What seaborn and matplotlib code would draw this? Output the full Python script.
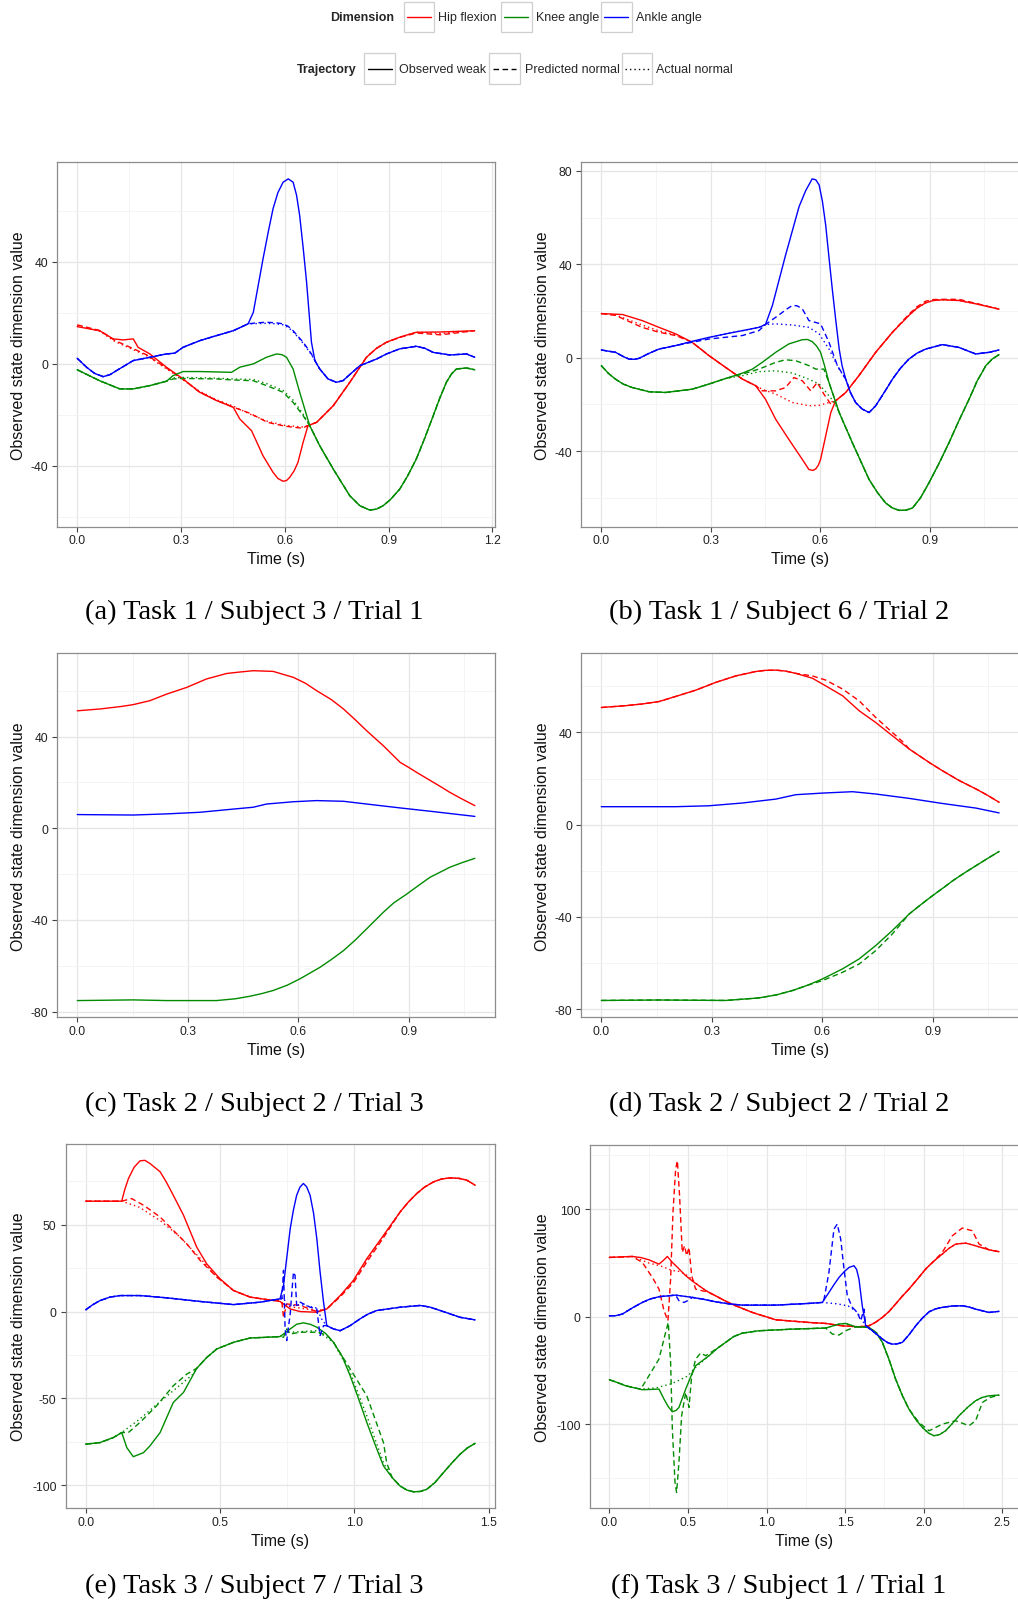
import matplotlib
matplotlib.use("Agg")
import matplotlib.pyplot as plt
import pandas as pd
import seaborn as sns
from matplotlib.lines import Line2D
from matplotlib.patches import Rectangle
from matplotlib.ticker import MultipleLocator, FuncFormatter

# ---------------- categories / legend ----------------
DIMS = ["Hip flexion", "Knee angle", "Ankle angle"]
TRAJ = ["Observed weak", "Predicted normal", "Actual normal"]
PALETTE = {"Hip flexion": "#FF0000", "Knee angle": "#008B00", "Ankle angle": "#0000FF"}
DASHES = {"Observed weak": "", "Predicted normal": (4, 2.5), "Actual normal": (1, 2.2)}

CAPTIONS = ["(a) Task 1 / Subject 3 / Trial 1", "(b) Task 1 / Subject 6 / Trial 2",
            "(c) Task 2 / Subject 2 / Trial 3", "(d) Task 2 / Subject 2 / Trial 2",
            "(e) Task 3 / Subject 7 / Trial 3", "(f) Task 3 / Subject 1 / Trial 1"]

# ---------------- panel (a) ----------------
a_hip_obs = [(0, 14.5), (0.065, 12.9), (0.104, 9.7), (0.133, 9.3), (0.162, 9.7), (0.176, 6.4), (0.21, 3.8),
             (0.258, -1.4), (0.306, -6.0), (0.354, -11.2), (0.403, -14.5), (0.451, -17.1), (0.47, -21.7),
             (0.504, -26.3), (0.537, -36.1), (0.566, -42.6), (0.58, -45.0), (0.595, -46.1), (0.605, -45.8),
             (0.614, -44.6), (0.627, -42.0), (0.638, -38.7), (0.653, -30.8), (0.667, -24.3), (0.692, -23.0),
             (0.74, -16.5), (0.788, -7.3), (0.836, 2.5), (0.865, 6.0), (0.894, 8.4), (0.935, 10.5),
             (0.98, 12.3), (1.05, 12.4), (1.149, 12.9)]
a_hip_pred = [(0, 15.2), (0.065, 13.0), (0.11, 9.0), (0.16, 6.0), (0.2, 3.5), (0.25, -1.0), (0.3, -5.5),
              (0.35, -10.8), (0.4, -14.2), (0.45, -17.0), (0.5, -19.5), (0.55, -23.0), (0.6, -24.5),
              (0.65, -25.3), (0.667, -24.3), (0.692, -23.0), (0.74, -16.5), (0.788, -7.3), (0.836, 2.5),
              (0.865, 6.0), (0.894, 8.4), (0.935, 10.4), (0.98, 12.0), (1.05, 11.3), (1.149, 12.9)]
a_hip_act = [(0, 14.8), (0.065, 12.7), (0.11, 8.6), (0.16, 5.6), (0.2, 3.2), (0.25, -1.3), (0.3, -5.8),
             (0.35, -10.5), (0.4, -14.0), (0.45, -16.6), (0.5, -19.8), (0.55, -22.6), (0.6, -24.2),
             (0.65, -24.8), (0.667, -24.3), (0.692, -23.0), (0.74, -16.5), (0.788, -7.3), (0.836, 2.5),
             (0.865, 6.0), (0.894, 8.4), (0.935, 10.5), (0.98, 12.3), (1.05, 11.8), (1.149, 12.9)]
a_knee_head = [(0, -2.4), (0.065, -6.7), (0.123, -9.9), (0.162, -9.9), (0.21, -8.6), (0.258, -6.9)]
a_knee_tail = [(0.672, -24.3), (0.701, -32.2), (0.74, -41.3), (0.765, -46.8), (0.788, -51.8), (0.817, -55.7),
               (0.846, -57.4), (0.865, -57.0), (0.884, -55.7), (0.905, -53.3), (0.932, -49.2),
               (0.955, -44.0), (0.98, -37.4), (1.005, -29.0), (1.029, -20.4), (1.048, -13.5), (1.067, -7.3),
               (1.082, -4.0), (1.096, -2.1), (1.125, -1.7), (1.149, -2.4)]
a_knee_obs_mid = [(0.277, -4.7), (0.306, -3.1), (0.354, -3.1), (0.446, -3.4), (0.47, -1.4), (0.509, -0.1),
                  (0.547, 2.5), (0.576, 3.8), (0.592, 3.5), (0.605, 2.5), (0.624, -2.1), (0.643, -11.2)]
a_knee_pred_mid = [(0.277, -6.0), (0.306, -5.8), (0.403, -6.0), (0.451, -6.4), (0.509, -6.7), (0.547, -8.6),
                   (0.595, -11.2), (0.624, -15.2), (0.653, -20.4)]
a_knee_act_mid = [(0.277, -5.6), (0.306, -5.4), (0.403, -5.7), (0.451, -6.0), (0.509, -6.2), (0.547, -7.8),
                  (0.595, -10.5), (0.624, -14.3), (0.653, -19.8)]
a_ankle_head = [(0, 2.1), (0.027, -1.4), (0.05, -3.8), (0.075, -5.1), (0.095, -4.3), (0.114, -2.7),
                (0.162, 1.2), (0.21, 2.5), (0.258, 3.8), (0.282, 4.1), (0.306, 6.4), (0.354, 9.0),
                (0.403, 11.0), (0.451, 12.9), (0.494, 15.6)]
a_ankle_tail = [(0.687, 1.2), (0.701, -2.1), (0.725, -6.0), (0.749, -7.3), (0.768, -6.7), (0.79, -4.0),
                (0.817, -0.8), (0.865, 1.8), (0.894, 3.8), (0.932, 5.8), (0.98, 6.8), (1.005, 6.0),
                (1.029, 4.4), (1.077, 3.4), (1.125, 3.8), (1.149, 2.5)]
a_ankle_obs_mid = [(0.509, 20.1), (0.537, 41.0), (0.552, 51.5), (0.566, 60.7), (0.58, 67.0), (0.595, 71.1),
                   (0.61, 72.4), (0.624, 71.1), (0.634, 66.0), (0.643, 58.0), (0.653, 45.5), (0.663, 31.9),
                   (0.677, 8.4)]
a_ankle_pred_mid = [(0.52, 16.0), (0.547, 16.2), (0.575, 16.0), (0.595, 15.6), (0.61, 14.6), (0.624, 12.9),
                    (0.653, 8.4), (0.677, 3.8)]
a_ankle_act_mid = [(0.52, 15.7), (0.547, 15.8), (0.575, 15.6), (0.595, 15.2), (0.61, 14.2), (0.624, 12.5),
                   (0.653, 8.0), (0.677, 3.5)]

# ---------------- panel (b) ----------------
b_hip_tail = [(0.67, -14.9), (0.706, -7.7), (0.752, 2.3), (0.798, 10.9), (0.843, 18.1), (0.865, 21.2),
              (0.889, 23.5), (0.91, 24.5), (0.935, 24.8), (0.98, 24.5), (1.026, 23.1), (1.09, 20.8)]
b_hip_obs_head = [(0, 18.9), (0.058, 18.5), (0.112, 15.9), (0.158, 13.0), (0.204, 10.2), (0.249, 6.6),
                  (0.295, 0.9), (0.341, -4.2), (0.387, -9.2), (0.423, -12.0), (0.45, -17.8), (0.478, -26.4),
                  (0.514, -35.0), (0.551, -43.6), (0.569, -47.9), (0.58, -48.3), (0.588, -47.6),
                  (0.595, -46.0), (0.601, -43.6), (0.615, -33.5), (0.629, -23.5), (0.642, -18.5)]
b_hip_pred_head = [(0, 18.9), (0.039, 18.1), (0.112, 13.0), (0.158, 10.9), (0.204, 9.5), (0.249, 6.6),
                   (0.295, 0.9), (0.341, -4.2), (0.387, -9.2), (0.423, -12.0), (0.441, -14.2), (0.478, -14.2),
                   (0.505, -12.8), (0.528, -8.5), (0.551, -9.9), (0.574, -14.2), (0.592, -10.6),
                   (0.61, -15.6), (0.629, -19.9), (0.642, -18.5)]
b_hip_pred_tail = [(0.67, -14.9), (0.706, -7.7), (0.752, 2.3), (0.798, 10.9), (0.843, 18.6), (0.865, 21.8),
                   (0.889, 24.2), (0.91, 24.9), (0.935, 25.0), (0.98, 25.0), (1.026, 23.3), (1.09, 20.8)]
b_hip_act_head = [(0, 18.9), (0.039, 18.3), (0.112, 14.0), (0.158, 11.5), (0.204, 9.8), (0.249, 6.6),
                  (0.295, 0.9), (0.341, -4.2), (0.387, -9.2), (0.423, -12.0), (0.441, -13.5), (0.478, -15.6),
                  (0.524, -19.2), (0.569, -20.6), (0.597, -20.4), (0.624, -19.2), (0.642, -18.5)]
b_ankle_head = [(0, 3.3), (0.039, 2.3), (0.06, 0.5), (0.076, -0.6), (0.09, -0.7), (0.103, -0.3),
                (0.13, 1.8), (0.158, 3.7), (0.204, 5.2)]
b_ankle_tail = [(0.683, -15.0), (0.697, -19.2), (0.715, -22.0), (0.734, -23.5), (0.752, -20.6), (0.775, -15.0),
                (0.798, -9.2), (0.82, -4.5), (0.843, -0.6), (0.865, 1.9), (0.889, 3.7), (0.935, 5.6),
                (0.98, 4.4), (1.026, 1.6), (1.063, 2.3), (1.09, 3.3)]
b_ankle_obs_mid = [(0.249, 7.0), (0.295, 8.7), (0.341, 10.2), (0.387, 11.6), (0.432, 13.0), (0.45, 14.2),
                   (0.469, 22.4), (0.505, 43.9), (0.542, 64.7), (0.56, 71.5), (0.578, 76.6), (0.588, 76.2),
                   (0.597, 74.0), (0.606, 67.0), (0.615, 56.8), (0.624, 43.0), (0.633, 29.5), (0.643, 15.5),
                   (0.652, 3.7), (0.66, -3.5), (0.67, -9.2)]
b_ankle_pred_mid = [(0.249, 6.6), (0.295, 8.0), (0.387, 9.5), (0.432, 11.6), (0.45, 14.2), (0.478, 17.3),
                    (0.51, 21.0), (0.524, 22.4), (0.537, 22.2), (0.551, 20.9), (0.569, 15.9), (0.601, 14.5),
                    (0.624, 6.6), (0.647, -3.4), (0.67, -9.2)]
b_ankle_act_mid = [(0.249, 7.0), (0.295, 8.7), (0.341, 10.2), (0.387, 11.6), (0.432, 13.0), (0.45, 14.2),
                   (0.478, 14.5), (0.524, 14.0), (0.569, 13.0), (0.597, 10.2), (0.624, 3.7), (0.652, -4.9),
                   (0.67, -9.2)]
b_knee_head = [(0, -3.4), (0.02, -6.8), (0.039, -9.2), (0.06, -11.3), (0.085, -12.8), (0.131, -14.6),
               (0.176, -14.9), (0.249, -13.5), (0.295, -11.3), (0.341, -8.9)]
b_knee_tail = [(0.652, -23.5), (0.688, -36.4), (0.734, -52.2), (0.757, -57.8), (0.779, -62.2), (0.797, -64.3),
               (0.816, -65.4), (0.835, -65.3), (0.853, -64.4), (0.875, -60.0), (0.898, -53.6),
               (0.925, -45.5), (0.953, -36.4), (0.98, -27.0), (1.008, -17.8), (1.03, -10.0), (1.054, -3.4),
               (1.072, -0.5), (1.09, 1.3)]
b_knee_obs_mid = [(0.387, -6.6), (0.414, -4.9), (0.441, -2.0), (0.478, 2.3), (0.514, 5.9), (0.551, 7.7),
                  (0.565, 7.8), (0.578, 6.9), (0.59, 5.0), (0.601, 2.3), (0.612, -3.5), (0.624, -10.6)]
b_knee_pred_mid = [(0.387, -7.0), (0.432, -4.9), (0.478, -2.0), (0.505, -0.9), (0.533, -1.3), (0.569, -3.4),
                   (0.588, -4.9), (0.61, -4.9), (0.624, -10.6)]
b_knee_act_mid = [(0.387, -7.7), (0.432, -6.0), (0.478, -5.6), (0.524, -6.6), (0.569, -9.2), (0.597, -11.3),
                  (0.624, -16.3), (0.64, -19.5)]

# ---------------- panel (c) ----------------
c_hip = [(0, 51.3), (0.062, 52.1), (0.12, 53.2), (0.152, 54.0), (0.197, 55.7), (0.243, 58.6), (0.297, 61.5),
         (0.351, 65.2), (0.406, 67.6), (0.44, 68.2), (0.478, 68.8), (0.532, 68.5), (0.587, 65.9),
         (0.62, 63.3), (0.65, 60.1), (0.69, 56.2), (0.723, 52.1), (0.755, 47.4), (0.786, 42.6),
         (0.831, 36.1), (0.877, 28.8), (0.9, 26.6), (0.922, 24.4), (0.967, 20.1), (0.99, 17.9),
         (1.012, 15.7), (1.045, 12.8), (1.08, 9.9)]
c_knee = [(0, -75.2), (0.152, -74.9), (0.243, -75.2), (0.378, -75.2), (0.43, -74.4), (0.469, -73.3),
          (0.5, -72.2), (0.532, -70.8), (0.57, -68.5), (0.605, -65.7), (0.659, -60.7), (0.69, -57.3),
          (0.723, -53.4), (0.755, -48.8), (0.786, -43.9), (0.831, -36.7), (0.86, -32.5), (0.895, -28.7),
          (0.93, -24.6), (0.958, -21.4), (1.012, -17.0), (1.045, -15.0), (1.08, -13.1)]
c_ankle = [(0, 6.0), (0.152, 5.8), (0.243, 6.3), (0.333, 7.0), (0.424, 8.4), (0.478, 9.2), (0.514, 10.6),
           (0.587, 11.6), (0.65, 12.1), (0.723, 11.8), (0.786, 10.6), (0.877, 8.9), (0.967, 7.3), (1.08, 5.2)]

# ---------------- panel (d) ----------------
d_hip_head = [(0, 50.8), (0.066, 51.6), (0.11, 52.3), (0.157, 53.4), (0.202, 55.6), (0.23, 57.0),
              (0.256, 58.3), (0.311, 61.7), (0.365, 64.5), (0.419, 66.4), (0.445, 66.9), (0.474, 67.0),
              (0.5, 66.6), (0.528, 65.6)]
d_hip_tail = [(0.836, 32.8), (0.89, 27.0), (0.926, 23.4), (0.972, 19.1), (1.017, 15.5), (1.048, 12.8),
              (1.08, 9.7)]
d_hip_obs_mid = [(0.573, 63.5), (0.609, 60.2), (0.655, 55.9), (0.7, 49.4), (0.745, 44.3), (0.79, 38.6)]
d_hip_pred_mid = [(0.573, 64.5), (0.609, 62.7), (0.655, 58.8), (0.7, 53.7), (0.745, 46.5), (0.79, 40.0),
                  (0.818, 36.0)]
d_knee_head = [(0, -76.2), (0.157, -76.0), (0.338, -76.2), (0.428, -75.1), (0.475, -73.8), (0.519, -71.9),
               (0.56, -69.6)]
d_knee_tail = [(0.836, -38.7), (0.868, -34.6), (0.899, -30.8), (0.93, -27.2), (0.954, -24.3), (0.985, -21.0),
               (1.017, -17.8), (1.048, -14.7), (1.08, -11.6)]
d_knee_obs_mid = [(0.6, -66.9), (0.655, -62.5), (0.7, -58.2), (0.745, -52.4), (0.79, -45.9)]
d_knee_pred_mid = [(0.6, -67.6), (0.655, -64.0), (0.7, -60.4), (0.745, -54.6), (0.79, -47.4)]
d_ankle = [(0, 7.8), (0.202, 7.8), (0.292, 8.2), (0.383, 9.4), (0.474, 11.1), (0.528, 13.0), (0.6, 13.7),
           (0.682, 14.3), (0.745, 13.3), (0.836, 11.4), (0.926, 9.2), (1.017, 7.2), (1.08, 5.1)]

# ---------------- panel (e) ----------------
e_hip_obs = [(0, 63.5), (0.134, 63.5), (0.145, 70.0), (0.159, 76.5), (0.18, 83.0), (0.202, 86.7),
             (0.22, 87.0), (0.239, 85.2), (0.277, 80.4), (0.3, 74.5), (0.326, 66.9), (0.364, 55.4),
             (0.413, 37.1), (0.45, 27.5), (0.5, 18.8), (0.55, 12.1), (0.612, 8.3), (0.674, 6.9), (0.723, 5.8),
             (0.761, 1.5), (0.798, 0.0), (0.86, -0.4), (0.897, 1.5), (0.947, 9.2), (0.996, 17.9),
             (1.046, 30.4), (1.108, 43.8), (1.17, 57.3), (1.2, 62.9), (1.232, 67.9), (1.26, 71.5),
             (1.294, 74.6), (1.325, 76.3), (1.356, 76.9), (1.39, 76.6), (1.418, 75.6), (1.449, 72.7)]
e_hip_pred = [(0, 63.5), (0.134, 63.5), (0.171, 65.0), (0.215, 61.2), (0.277, 54.4), (0.326, 46.7),
              (0.376, 39.0), (0.426, 29.4), (0.488, 19.8), (0.55, 12.1), (0.612, 8.3), (0.674, 6.9),
              (0.723, 6.3), (0.73, 5.5), (0.736, -3.3), (0.748, 4.4), (0.798, 3.5), (0.86, 0.0), (0.897, 1.5),
              (0.947, 8.5), (0.996, 16.5), (1.046, 28.5), (1.108, 42.5), (1.17, 57.3), (1.2, 62.9),
              (1.232, 67.9), (1.26, 71.5), (1.294, 74.6), (1.325, 76.3), (1.356, 76.9), (1.39, 76.6),
              (1.418, 75.6), (1.449, 72.7)]
e_hip_act = [(0, 63.5), (0.134, 63.5), (0.2, 60.0), (0.28, 52.0), (0.35, 43.0), (0.43, 30.0), (0.488, 20.0),
             (0.55, 12.1), (0.612, 8.3), (0.674, 6.9), (0.723, 5.8), (0.748, 3.0), (0.798, 2.0), (0.86, 0.5),
             (0.897, 1.5), (0.947, 9.0), (0.996, 17.5), (1.046, 29.5), (1.108, 43.5), (1.17, 57.3),
             (1.2, 62.9), (1.232, 67.9), (1.26, 71.5), (1.294, 74.6), (1.325, 76.3), (1.356, 76.9),
             (1.39, 76.6), (1.418, 75.6), (1.449, 72.7)]
e_ankle_head = [(0, 1.0), (0.025, 3.8), (0.053, 6.3), (0.09, 8.3), (0.128, 9.2), (0.202, 9.2), (0.301, 7.9),
                (0.426, 5.8), (0.55, 4.0), (0.649, 5.4), (0.723, 7.3)]
e_ankle_tail = [(0.897, -8.1), (0.922, -10.0), (0.947, -11.0), (0.984, -8.1), (1.021, -4.2), (1.05, -1.5),
                (1.083, 0.6), (1.17, 2.5), (1.244, 3.5), (1.28, 2.6), (1.319, 0.6), (1.393, -3.3),
                (1.449, -4.8)]
e_ankle_obs_mid = [(0.736, 15.0), (0.761, 47.7), (0.773, 58.5), (0.785, 66.9), (0.797, 71.5), (0.81, 73.7),
                   (0.822, 71.8), (0.835, 66.9), (0.848, 56.5), (0.86, 41.9), (0.872, 23.0), (0.885, 5.4)]
e_ankle_pred_mid = [(0.73, 7.3), (0.736, 23.7), (0.742, -10.0), (0.748, -16.7), (0.761, -1.3), (0.773, 22.7),
                    (0.779, 20.8), (0.785, 3.5), (0.798, 5.4), (0.835, 2.5), (0.86, 1.5), (0.872, -13.8),
                    (0.885, -8.1)]
e_ankle_act_mid = [(0.736, 8.0), (0.75, 3.0), (0.8, 4.0), (0.86, 2.0), (0.88, -5.0)]
e_knee_head = [(0, -76.3), (0.053, -75.4), (0.103, -72.5), (0.134, -69.6)]
e_knee_tail = [(1.14, -95.5), (1.17, -100.4), (1.195, -102.7), (1.22, -103.7), (1.245, -103.5),
               (1.269, -102.3), (1.3, -98.3), (1.331, -92.7), (1.362, -87.2), (1.393, -82.1), (1.42, -78.5),
               (1.449, -75.8)]
e_knee_obs_mid = [(0.153, -78.3), (0.177, -83.5), (0.215, -81.2), (0.239, -77.3), (0.277, -69.6),
                  (0.326, -52.3), (0.364, -46.5), (0.413, -32.7), (0.45, -26.5), (0.488, -21.5), (0.55, -17.7),
                  (0.612, -15.2), (0.674, -14.8), (0.723, -14.4), (0.761, -10.0), (0.785, -7.3), (0.81, -6.5),
                  (0.835, -7.3), (0.86, -9.0), (0.892, -12.5), (0.922, -17.7), (0.955, -26.0), (0.984, -36.9),
                  (1.015, -50.0), (1.046, -63.8), (1.078, -77.0), (1.108, -88.8)]
e_knee_pred_mid = [(0.159, -69.6), (0.202, -63.8), (0.264, -54.2), (0.326, -42.7), (0.376, -36.0),
                   (0.413, -32.7), (0.45, -26.5), (0.488, -21.5), (0.55, -17.7), (0.612, -15.2), (0.674, -14.8),
                   (0.723, -14.4), (0.736, -14.8), (0.748, -10.0), (0.761, -12.9), (0.798, -11.9),
                   (0.86, -11.9), (0.897, -13.5), (0.922, -17.7), (0.984, -33.0), (1.046, -48.5),
                   (1.108, -75.4), (1.12, -87.0)]
e_knee_act_mid = [(0.2, -62.0), (0.26, -54.0), (0.33, -45.0), (0.4, -36.0), (0.413, -32.7), (0.45, -26.5),
                  (0.488, -21.5), (0.55, -17.7), (0.612, -15.2), (0.674, -14.8), (0.723, -14.4), (0.75, -12.0),
                  (0.86, -11.0), (0.922, -17.7), (0.984, -35.0), (1.046, -60.0), (1.108, -87.0)]

# ---------------- panel (f) ----------------
f_hip_tail = [(0.676, 19.5), (0.74, 14.5), (0.804, 10.2), (0.91, 4.0), (1.058, -2.8), (1.27, -5.3),
              (1.376, -6.2), (1.482, -8.4), (1.588, -9.3), (1.652, -8.4), (1.695, -5.0), (1.737, -0.6),
              (1.78, 5.0), (1.821, 11.8), (1.86, 18.5), (1.906, 25.7), (1.96, 35.0), (2.012, 44.3),
              (2.065, 51.8)]
f_hip_obs_end = [(2.118, 58.2), (2.16, 63.5), (2.203, 67.5), (2.267, 68.4), (2.33, 65.9), (2.415, 62.2),
                 (2.479, 60.4)]
f_hip_pred_end = [(2.118, 59.8), (2.182, 75.2), (2.245, 82.4), (2.309, 79.9), (2.352, 67.5), (2.415, 62.2),
                  (2.479, 60.4)]
f_hip_obs_head = [(0, 55.1), (0.146, 56.0), (0.2, 55.0), (0.252, 52.9), (0.316, 48.9), (0.345, 52.5),
                  (0.369, 56.0), (0.401, 50.5), (0.44, 45.0), (0.486, 38.1), (0.53, 33.0), (0.57, 28.8),
                  (0.62, 23.8)]
f_hip_pred_head = [(0, 55.1), (0.146, 56.0), (0.21, 50.5), (0.274, 36.5), (0.316, 25.7), (0.348, 5.6),
                   (0.373, -3.7), (0.39, 35.0), (0.405, 96.9), (0.422, 137.2), (0.433, 144.9), (0.447, 112.4),
                   (0.464, 59.8), (0.479, 65.9), (0.492, 56.7), (0.507, 64.4), (0.524, 38.1), (0.549, 25.7),
                   (0.592, 24.1), (0.62, 23.3)]
f_hip_act_head = [(0, 55.1), (0.146, 56.0), (0.25, 50.0), (0.33, 47.0), (0.4, 43.0), (0.45, 42.0),
                  (0.5, 38.0), (0.57, 28.8), (0.62, 23.8)]
f_ankle_head = [(0, 0.9), (0.04, 1.0), (0.083, 2.5), (0.15, 8.5), (0.21, 13.3), (0.26, 16.5), (0.316, 18.6),
                (0.422, 20.1)]
f_ankle_body = [(0.528, 18.0), (0.6, 16.2), (0.676, 13.9), (0.76, 12.0), (0.846, 10.8), (1.058, 10.8),
                (1.27, 12.4), (1.355, 13.3)]
f_ankle_tail = [(1.631, -8.4), (1.673, -13.0), (1.737, -20.7), (1.77, -24.0), (1.8, -25.4), (1.83, -25.2),
                (1.864, -23.8), (1.905, -17.0), (1.949, -8.4), (1.99, -1.5), (2.034, 4.6), (2.075, 7.3),
                (2.118, 8.7), (2.18, 10.0), (2.245, 10.2), (2.29, 9.0), (2.33, 7.1), (2.415, 4.0),
                (2.479, 5.0)]
f_ankle_pred_dip = [(0.443, 14.9), (0.475, 13.3), (0.507, 15.5)]
f_ankle_obs_peak = [(1.397, 22.6), (1.43, 30.0), (1.461, 36.5), (1.495, 42.0), (1.525, 45.8), (1.556, 47.4),
                    (1.573, 44.0), (1.588, 35.0), (1.609, 10.2)]
f_ankle_pred_peak = [(1.366, 16.4), (1.397, 41.2), (1.429, 81.4), (1.45, 86.1), (1.472, 72.1), (1.493, 44.3),
                     (1.514, 19.5), (1.546, 8.7), (1.578, 4.0), (1.599, -3.7), (1.62, 7.1)]
f_ankle_act_peak = [(1.45, 12.0), (1.52, 10.0), (1.57, 5.0), (1.6, -1.0)]
f_knee_head = [(0, -58.5), (0.05, -61.0), (0.104, -64.1)]
f_knee_tail = [(2.1, -109.5), (2.139, -105.9), (2.18, -99.5), (2.224, -92.0), (2.28, -84.0), (2.33, -78.0),
               (2.37, -75.0), (2.415, -73.4), (2.479, -72.8)]
f_knee_obs = [(0.21, -67.8), (0.316, -67.2), (0.348, -76.5), (0.375, -83.5), (0.401, -88.2), (0.425, -87.0),
              (0.443, -84.2), (0.486, -67.2), (0.52, -55.0), (0.549, -45.5), (0.634, -36.2), (0.69, -29.0),
              (0.74, -23.8), (0.79, -18.5), (0.846, -15.2), (0.952, -13.0), (1.164, -11.5), (1.376, -10.5),
              (1.461, -6.8), (1.503, -6.2), (1.567, -9.3), (1.652, -9.9), (1.7, -15.0), (1.737, -23.8),
              (1.78, -40.0), (1.821, -57.9), (1.865, -73.5), (1.906, -85.8), (1.95, -95.5), (1.991, -102.8),
              (2.03, -108.0), (2.065, -110.5)]
f_knee_pred = [(0.2, -67.2), (0.252, -54.8), (0.316, -39.3), (0.358, -14.6), (0.375, -5.3), (0.39, -42.4),
               (0.401, -104.3), (0.418, -153.9), (0.428, -163.2), (0.443, -135.3), (0.46, -92.0),
               (0.486, -70.3), (0.507, -84.2), (0.524, -54.8), (0.549, -39.3), (0.581, -33.7), (0.613, -36.2),
               (0.69, -29.0), (0.74, -23.8), (0.79, -18.5), (0.846, -15.2), (0.952, -13.0), (1.164, -11.5),
               (1.376, -10.5), (1.419, -16.1), (1.461, -17.0), (1.503, -13.0), (1.567, -9.3), (1.652, -9.9),
               (1.7, -15.0), (1.737, -23.8), (1.78, -40.0), (1.821, -57.9), (1.865, -73.5), (1.906, -85.8),
               (1.97, -98.2), (2.034, -105.9), (2.118, -99.7), (2.203, -96.6), (2.288, -101.2), (2.33, -96.6),
               (2.373, -79.6), (2.424, -74.9), (2.479, -72.8)]
f_knee_act = [(0.2, -67.2), (0.3, -66.0), (0.4, -62.0), (0.5, -55.0), (0.549, -47.0), (0.634, -36.2),
              (0.69, -29.0), (0.74, -23.8), (0.79, -18.5), (0.846, -15.2), (0.952, -13.0), (1.164, -11.5),
              (1.376, -10.5), (1.461, -6.8), (1.503, -6.2), (1.567, -9.3), (1.652, -9.9), (1.7, -15.0),
              (1.737, -23.8), (1.78, -40.0), (1.821, -57.9), (1.865, -73.5), (1.906, -85.8), (1.95, -95.5),
              (1.991, -102.8), (2.03, -108.0), (2.065, -110.5)]

# curves per panel: (dimension, trajectory, points)
PANEL_CURVES = [
    [("Hip flexion", "Observed weak", a_hip_obs),
     ("Hip flexion", "Predicted normal", a_hip_pred),
     ("Hip flexion", "Actual normal", a_hip_act),
     ("Knee angle", "Observed weak", a_knee_head + a_knee_obs_mid + a_knee_tail),
     ("Knee angle", "Predicted normal", a_knee_head + a_knee_pred_mid + a_knee_tail),
     ("Knee angle", "Actual normal", a_knee_head + a_knee_act_mid + a_knee_tail),
     ("Ankle angle", "Observed weak", a_ankle_head + a_ankle_obs_mid + a_ankle_tail),
     ("Ankle angle", "Predicted normal", a_ankle_head + a_ankle_pred_mid + a_ankle_tail),
     ("Ankle angle", "Actual normal", a_ankle_head + a_ankle_act_mid + a_ankle_tail)],
    [("Hip flexion", "Observed weak", b_hip_obs_head + b_hip_tail),
     ("Hip flexion", "Predicted normal", b_hip_pred_head + b_hip_pred_tail),
     ("Hip flexion", "Actual normal", b_hip_act_head + b_hip_tail),
     ("Knee angle", "Observed weak", b_knee_head + b_knee_obs_mid + b_knee_tail),
     ("Knee angle", "Predicted normal", b_knee_head + b_knee_pred_mid + b_knee_tail),
     ("Knee angle", "Actual normal", b_knee_head + b_knee_act_mid + b_knee_tail),
     ("Ankle angle", "Observed weak", b_ankle_head + b_ankle_obs_mid + b_ankle_tail),
     ("Ankle angle", "Predicted normal", b_ankle_head + b_ankle_pred_mid + b_ankle_tail),
     ("Ankle angle", "Actual normal", b_ankle_head + b_ankle_act_mid + b_ankle_tail)],
    [("Hip flexion", "Observed weak", c_hip),
     ("Knee angle", "Observed weak", c_knee),
     ("Ankle angle", "Observed weak", c_ankle)],
    [("Hip flexion", "Observed weak", d_hip_head + d_hip_obs_mid + d_hip_tail),
     ("Hip flexion", "Predicted normal", d_hip_head + d_hip_pred_mid + d_hip_tail),
     ("Knee angle", "Observed weak", d_knee_head + d_knee_obs_mid + d_knee_tail),
     ("Knee angle", "Predicted normal", d_knee_head + d_knee_pred_mid + d_knee_tail),
     ("Ankle angle", "Observed weak", d_ankle)],
    [("Hip flexion", "Observed weak", e_hip_obs),
     ("Hip flexion", "Predicted normal", e_hip_pred),
     ("Hip flexion", "Actual normal", e_hip_act),
     ("Knee angle", "Observed weak", e_knee_head + e_knee_obs_mid + e_knee_tail),
     ("Knee angle", "Predicted normal", e_knee_head + e_knee_pred_mid + e_knee_tail),
     ("Knee angle", "Actual normal", e_knee_head + e_knee_act_mid + e_knee_tail),
     ("Ankle angle", "Observed weak", e_ankle_head + e_ankle_obs_mid + e_ankle_tail),
     ("Ankle angle", "Predicted normal", e_ankle_head + e_ankle_pred_mid + e_ankle_tail),
     ("Ankle angle", "Actual normal", e_ankle_head + e_ankle_act_mid + e_ankle_tail)],
    [("Hip flexion", "Observed weak", f_hip_obs_head + f_hip_tail + f_hip_obs_end),
     ("Hip flexion", "Predicted normal", f_hip_pred_head + f_hip_tail + f_hip_pred_end),
     ("Hip flexion", "Actual normal", f_hip_act_head + f_hip_tail + f_hip_obs_end),
     ("Knee angle", "Observed weak", f_knee_head + f_knee_obs + f_knee_tail),
     ("Knee angle", "Predicted normal", f_knee_head + f_knee_pred),
     ("Knee angle", "Actual normal", f_knee_head + f_knee_act + f_knee_tail),
     ("Ankle angle", "Observed weak", f_ankle_head + f_ankle_body + f_ankle_obs_peak + f_ankle_tail),
     ("Ankle angle", "Predicted normal", f_ankle_head + f_ankle_pred_dip + f_ankle_body + f_ankle_pred_peak + f_ankle_tail),
     ("Ankle angle", "Actual normal", f_ankle_head + f_ankle_body + f_ankle_act_peak + f_ankle_tail)],
]

# axis limits / breaks per panel
X_LIMS = [(-0.0575, 1.2075), (-0.0548, 1.1448), (-0.0543, 1.1347), (-0.0543, 1.134), (-0.0744, 1.523), (-0.1247, 2.606)]
Y_LIMS = [(-63.9, 78.9), (-72.4, 83.7), (-82.5, 76.4), (-83.5, 74.3), (-113.2, 96.4), (-177.9, 159.8)]
X_STEPS = [0.3, 0.3, 0.3, 0.3, 0.5, 0.5]
Y_STEPS = [40, 40, 40, 40, 50, 100]

# ---------------- layout (pixels) ----------------
W, H = 1018, 1615
BOXES = [(57.3, 163.3, 495, 527.7), (581.3, 163.3, 1019, 527.7),
         (57.3, 654.3, 495, 1018.3), (581.3, 654.3, 1019, 1018.3),
         (65.7, 1145.0, 495, 1509.3), (589.7, 1145.7, 1019, 1509.3)]
YLAB_X = [18.3, 542.3, 18.3, 542.3, 18.3, 542.3]
CAP_POS = [(254, 612), (779, 612), (254, 1104), (779, 1104), (254, 1586), (779, 1586)]

sns.set_theme(style="ticks")
plt.rcParams["font.family"] = ["Liberation Sans", "DejaVu Sans"]
plt.rcParams["axes.unicode_minus"] = False

fig = plt.figure(figsize=(W / 100, H / 100), dpi=100)
fig.patch.set_facecolor("white")

for i, curves in enumerate(PANEL_CURVES):
    l, t, r, b = BOXES[i]
    ax = fig.add_axes([l / W, 1 - b / H, (r - l) / W, (b - t) / H])
    ax.set_facecolor("white")
    rows = []
    for dim, traj, pts in curves:
        for k, (x, y) in enumerate(pts):
            rows.append({"Time": x, "Value": y, "Dimension": dim, "Trajectory": traj, "order": k})
    df = pd.DataFrame(rows)
    sns.lineplot(data=df, x="Time", y="Value", hue="Dimension", style="Trajectory",
                 hue_order=DIMS, style_order=TRAJ, palette=PALETTE, dashes=DASHES,
                 estimator=None, sort=False, legend=False, linewidth=1.0, ax=ax)
    for ln in ax.get_lines():
        ln.set_solid_joinstyle("round")
        ln.set_dash_joinstyle("round")
    ax.set_xlim(*X_LIMS[i])
    ax.set_ylim(*Y_LIMS[i])
    ax.xaxis.set_major_locator(MultipleLocator(X_STEPS[i]))
    ax.xaxis.set_minor_locator(MultipleLocator(X_STEPS[i] / 2))
    ax.yaxis.set_major_locator(MultipleLocator(Y_STEPS[i]))
    ax.yaxis.set_minor_locator(MultipleLocator(Y_STEPS[i] / 2))
    ax.xaxis.set_major_formatter(FuncFormatter(lambda v, p: f"{v:.1f}"))
    ax.yaxis.set_major_formatter(FuncFormatter(lambda v, p: f"{v:.0f}"))
    ax.grid(True, which="minor", color="#F3F3F3", linewidth=0.6)
    ax.grid(True, which="major", color="#E6E6E6", linewidth=0.9)
    ax.set_axisbelow(True)
    for sp in ax.spines.values():
        sp.set_visible(True)
        sp.set_color("#8C8C8C")
        sp.set_linewidth(0.9)
    ax.tick_params(which="major", direction="out", length=3.3, width=0.8, color="#444444",
                   labelsize=8.7, labelcolor="#222222", bottom=True, left=True)
    ax.tick_params(axis="x", pad=2.2)
    ax.tick_params(axis="y", pad=3.3)
    ax.tick_params(which="minor", length=0)
    aw, ah = r - l, b - t
    ax.set_xlabel("Time (s)", fontsize=11.5, va="center", color="#111111")
    ax.xaxis.set_label_coords(0.5, -32.3 / ah)
    ax.set_ylabel("Observed state dimension value", fontsize=11.5, va="center", color="#111111")
    ax.yaxis.set_label_coords((YLAB_X[i] - l) / aw, 0.5)
    cx, cy = CAP_POS[i]
    fig.text(cx / W, 1 - cy / H, CAPTIONS[i], ha="center", va="center", fontsize=20.5,
             family=["Liberation Serif", "DejaVu Serif"], color="black")

# ---------------- legend (drawn on an overlay in pixel units) ----------------
lg = fig.add_axes([0, 0, 1, 1], zorder=5)
lg.set_xlim(0, W)
lg.set_ylim(H, 0)
lg.axis("off")
lg.patch.set_alpha(0)

def key(x0, x1, y0, y1, color, dashes):
    lg.add_patch(Rectangle((x0, y0), x1 - x0, y1 - y0, facecolor="white", edgecolor="#CFCFCF", linewidth=0.9))
    yc = (y0 + y1) / 2
    ln = Line2D([x0 + 3.5, x1 - 3.5], [yc, yc], color=color, linewidth=1.0)
    if dashes:
        ln.set_dashes(dashes)
    lg.add_line(ln)

lg.text(330, 18, "Dimension", fontsize=9, fontweight="bold", ha="left", va="center")
for (x0, x1, tx), dim in zip([(404, 434.3, 438.3), (500.7, 531.7, 536), (600.7, 632, 636)], DIMS):
    key(x0, x1, 2.7, 33.3, PALETTE[dim], None)
    lg.text(tx, 18, dim, fontsize=9, ha="left", va="center")

lg.text(297.3, 69.8, "Trajectory", fontsize=9, fontweight="bold", ha="left", va="center")
for (x0, x1, tx), tr in zip([(364.3, 395.3, 399), (489.3, 520, 524.7), (621.7, 652.3, 656)], TRAJ):
    key(x0, x1, 54.3, 85.3, "black", DASHES[tr] if DASHES[tr] else None)
    lg.text(tx, 69.8, tr, fontsize=9, ha="left", va="center")

fig.savefig("out.png", dpi=100, facecolor="white")
